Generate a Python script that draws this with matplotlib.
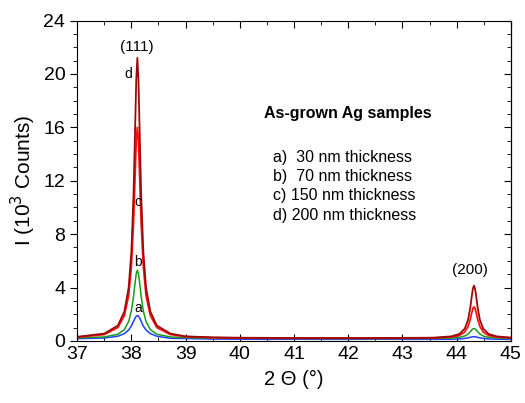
import matplotlib.pyplot as plt
from matplotlib.ticker import MultipleLocator, NullFormatter

plt.rcParams['font.family'] = ['Liberation Sans', 'DejaVu Sans']

# 2-theta positions (deg)
two_theta = [37.00, 37.50, 37.75, 37.87, 37.95, 38.00, 38.04, 38.07, 38.09, 38.11,
             38.13, 38.15, 38.18, 38.22, 38.27, 38.35, 38.47, 38.72, 39.00,
             39.50, 40.00, 40.50, 41.00, 41.50, 42.00, 42.50, 43.00, 43.50,
             43.60, 43.90, 44.05, 44.15, 44.21, 44.25, 44.28, 44.30, 44.32,
             44.34, 44.36, 44.39, 44.43, 44.49, 44.59, 44.74, 45.00]

# intensities (10^3 counts)
i_30nm = [0.17, 0.22, 0.35, 0.55, 0.82, 1.12, 1.47, 1.73, 1.85, 1.90,
          1.85, 1.73, 1.47, 1.12, 0.82, 0.55, 0.35, 0.20, 0.18,
          0.14, 0.13, 0.12, 0.13, 0.12, 0.12, 0.13, 0.12, 0.12,
          0.12, 0.13, 0.15, 0.19, 0.23, 0.27, 0.30, 0.31, 0.32,
          0.31, 0.30, 0.27, 0.23, 0.19, 0.15, 0.13, 0.12]
i_70nm = [0.23, 0.30, 0.50, 0.85, 1.45, 2.25, 3.35, 4.42, 5.05, 5.30,
          5.05, 4.42, 3.35, 2.25, 1.45, 0.85, 0.50, 0.30, 0.25,
          0.21, 0.20, 0.19, 0.19, 0.18, 0.18, 0.18, 0.18, 0.19,
          0.19, 0.22, 0.27, 0.37, 0.52, 0.68, 0.83, 0.90, 0.93,
          0.90, 0.83, 0.68, 0.52, 0.37, 0.27, 0.22, 0.19]
i_150nm = [0.28, 0.48, 1.00, 1.90, 3.40, 5.60, 8.90, 12.60, 15.00, 16.00,
           15.00, 12.60, 8.90, 5.60, 3.40, 1.90, 1.00, 0.48, 0.32,
           0.24, 0.22, 0.21, 0.20, 0.20, 0.20, 0.20, 0.21, 0.22,
           0.23, 0.29, 0.41, 0.67, 1.08, 1.60, 2.12, 2.43, 2.55,
           2.43, 2.12, 1.60, 1.08, 0.67, 0.41, 0.29, 0.23]
i_200nm = [0.31, 0.55, 1.15, 2.20, 4.00, 6.70, 11.00, 16.10, 19.60, 21.20,
           19.60, 16.10, 11.00, 6.70, 4.00, 2.20, 1.15, 0.55, 0.34,
           0.27, 0.24, 0.23, 0.22, 0.22, 0.22, 0.22, 0.23, 0.24,
           0.25, 0.34, 0.52, 0.92, 1.57, 2.44, 3.36, 3.92, 4.15,
           3.92, 3.36, 2.44, 1.57, 0.92, 0.52, 0.34, 0.25]

fig = plt.figure(figsize=(5.25, 4.03), dpi=100)
ax = fig.add_axes([0.147, 0.154, 0.826, 0.795])

ax.plot(two_theta, i_30nm, color='#1f3fff', lw=1.1)
ax.plot(two_theta, i_70nm, color='#1a9a1a', lw=1.1)
ax.plot(two_theta, i_150nm, color='#ff1010', lw=1.3)
ax.plot(two_theta, i_200nm, color='#9b0a0a', lw=1.3)

ax.set_xlim(37, 45)
ax.set_ylim(0, 24)
ax.xaxis.set_major_locator(MultipleLocator(1))
ax.xaxis.set_minor_locator(MultipleLocator(0.5))
ax.yaxis.set_major_locator(MultipleLocator(4))
ax.yaxis.set_minor_locator(MultipleLocator(1))
ax.tick_params(axis='x', which='both', direction='in', top=True, labelsize=14)
ax.tick_params(axis='y', which='both', direction='out', labelsize=14)
ax.tick_params(which='major', length=5)
ax.tick_params(which='minor', length=3)

# right-hand ticks point inwards
sec = ax.secondary_yaxis('right')
sec.yaxis.set_major_locator(MultipleLocator(4))
sec.yaxis.set_minor_locator(MultipleLocator(1))
sec.yaxis.set_major_formatter(NullFormatter())
sec.tick_params(which='both', direction='in')
sec.tick_params(which='major', length=5)
sec.tick_params(which='minor', length=3)

ax.set_xlabel('2 Θ (°)', fontsize=14.5, labelpad=5)
ax.set_ylabel('I (10$^3$ Counts)', fontsize=15)

ax.text(38.1, 22.0, '(111)', ha='center', va='center', fontsize=11)
ax.text(44.24, 5.3, '(200)', ha='center', va='center', fontsize=11)
ax.text(37.95, 20.0, 'd', ha='center', va='center', fontsize=10)
ax.text(38.12, 10.4, 'c', ha='center', va='center', fontsize=10)
ax.text(38.13, 5.9, 'b', ha='center', va='center', fontsize=10)
ax.text(38.13, 2.5, 'a', ha='center', va='center', fontsize=10)

ax.text(40.44, 17.0, 'As-grown Ag samples', fontsize=11.5, fontweight='bold', va='center')
samples = ['a)  30 nm thickness', 'b)  70 nm thickness',
           'c) 150 nm thickness', 'd) 200 nm thickness']
for k, s in enumerate(samples):
    ax.text(40.61, 13.76 - 1.45 * k, s, fontsize=11.5, va='center')

fig.savefig('out.png', dpi=100)
